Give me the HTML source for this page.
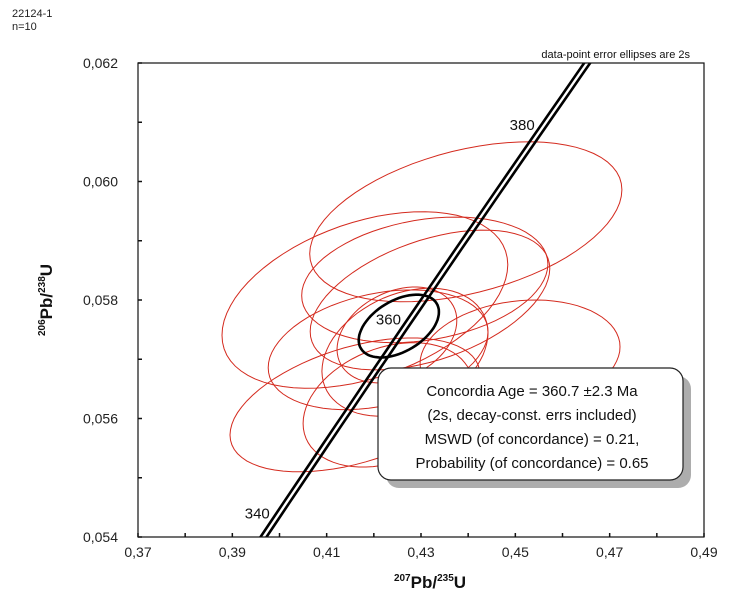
<!DOCTYPE html>
<html><head><meta charset="utf-8"><style>
html,body{margin:0;padding:0;background:#fff;width:745px;height:600px;overflow:hidden;}
svg{display:block;font-family:"Liberation Sans",Arial,sans-serif;}
</style></head><body>
<svg id="chart" width="745" height="600" viewBox="0 0 745 600">
<text x="12" y="17" font-size="11" fill="#222">22124-1</text>
<text x="12" y="30" font-size="11" fill="#222">n=10</text>
<text x="690" y="58" font-size="11" text-anchor="end" fill="#111">data-point error ellipses are 2s</text>
<g id="ellipses"></g>
<g id="concordia"></g>
<rect x="138" y="63" width="566" height="474" fill="none" stroke="#111" stroke-width="1.2"/>
<g id="axes"></g>
<g>
<rect x="386" y="376" width="305" height="112" rx="13" fill="#999" opacity="0.8"/>
<rect x="378" y="368" width="305" height="112" rx="13" fill="#fff" stroke="#222" stroke-width="1.2"/>
<text x="532" y="396" font-size="15" text-anchor="middle" fill="#111">Concordia Age = 360.7 ±2.3 Ma</text>
<text x="532" y="420" font-size="15" text-anchor="middle" fill="#111">(2s, decay-const. errs included)</text>
<text x="532" y="444" font-size="15" text-anchor="middle" fill="#111">MSWD (of concordance) = 0.21,</text>
<text x="532" y="468" font-size="15" text-anchor="middle" fill="#111">Probability (of concordance) = 0.65</text>
</g>
<text x="430" y="588" font-size="17" font-weight="bold" text-anchor="middle" fill="#111"><tspan font-size="10" dy="-7">207</tspan><tspan dy="7">Pb/</tspan><tspan font-size="10" dy="-7">235</tspan><tspan dy="7">U</tspan></text>
<text transform="translate(52,300) rotate(-90)" font-size="17" font-weight="bold" text-anchor="middle" fill="#111"><tspan font-size="10" dy="-7">206</tspan><tspan dy="7">Pb/</tspan><tspan font-size="10" dy="-7">238</tspan><tspan dy="7">U</tspan></text>
</svg>
<script>
const xTicks=[0.37,0.39,0.41,0.43,0.45,0.47,0.49];
const xTickLabels=["0,37","0,39","0,41","0,43","0,45","0,47","0,49"];
const yTicks=[0.054,0.056,0.058,0.060,0.062];
const yTickLabels=["0,054","0,056","0,058","0,060","0,062"];
const ellX=[0.4395,0.4181,0.4308,0.4319,0.4160,0.4510,0.4266,0.4249,0.4209,0.4230];
const ellY=[0.05932,0.05800,0.05834,0.05800,0.05623,0.05707,0.05712,0.05741,0.05716,0.05623];
const ellSX=[0.0331,0.0303,0.0261,0.0254,0.0265,0.0212,0.0176,0.0127,0.0233,0.0180];
const ellSY=[0.00135,0.00149,0.00106,0.00118,0.00113,0.00093,0.00108,0.00081,0.00101,0.00105];
const ellRho=[0.4,0.4,0.25,0.45,0.45,0.15,0.3,0.3,0.3,0.3];
const concX=0.4253, concY=0.05756, concSX=0.0085, concSY=0.00053, concRho=0.45;
const ageLabels=[340,360,380];
const NS="http://www.w3.org/2000/svg";
const X0=0.37,X1=0.49,Y0=0.054,Y1=0.062,PL=138,PR=704,PT=63,PB=537;
const sx=v=>PL+(v-X0)/(X1-X0)*(PR-PL);
const sy=v=>PB-(v-Y0)/(Y1-Y0)*(PB-PT);
function mk(tag,attrs,parent){const e=document.createElementNS(NS,tag);for(const k in attrs)e.setAttribute(k,attrs[k]);parent.appendChild(e);return e;}
function ell(cx,cy,ex,ey,r){let d="";for(let i=0;i<=72;i++){const t=i/72*2*Math.PI;const x=cx+ex*Math.cos(t);const y=cy+ey*(r*Math.cos(t)+Math.sqrt(1-r*r)*Math.sin(t));d+=(i?"L":"M")+sx(x).toFixed(1)+" "+sy(y).toFixed(1);}return d+"Z";}
const eg=document.getElementById("ellipses");
for(let i=0;i<ellX.length;i++){
 const p=mk("path",{d:ell(ellX[i],ellY[i],ellSX[i],ellSY[i],ellRho[i]),fill:"none",stroke:"#d42a1e","stroke-width":"1"},eg);
 
 
}
const cg=document.getElementById("concordia");
const l235=9.8485e-4,l238=1.55125e-4;
const cxf=t=>Math.exp(l235*t)-1, cyf=t=>Math.exp(l238*t)-1;
const clip=mk("clipPath",{id:"pc"},cg);mk("rect",{x:PL,y:PT,width:PR-PL,height:PB-PT},clip);
[-3,3].forEach(off=>{let d="";for(let t=320;t<=410;t+=2){d+=(t>320?"L":"M")+(sx(cxf(t))+off+5).toFixed(1)+" "+(sy(cyf(t))-6).toFixed(1);}
 const p=mk("path",{d:d,fill:"none",stroke:"#000","stroke-width":"2.6","clip-path":"url(#pc)"},cg);
 
 });
ageLabels.forEach(a=>{const x=sx(cxf(a))+5,y=sy(cyf(a))-6;
 const t=mk("text",{x:x-4,y:y-3,"font-size":"15","text-anchor":"end",fill:"#111"},cg);t.textContent=a;
 
 });
const ce=mk("path",{d:ell(concX,concY,concSX,concSY,concRho),fill:"none",stroke:"#000","stroke-width":"2.6"},cg);


const ag=document.getElementById("axes");
for(let v=X0;v<=X1+1e-9;v+=0.01){const x=sx(v);const l=mk("line",{x1:x,x2:x,y1:PB,y2:PB-4,stroke:"#111","stroke-width":"1.5"},ag);
 
 }
for(let v=Y0;v<=Y1+1e-9;v+=0.001){const y=sy(v);const l=mk("line",{x1:PL,x2:PL+4,y1:y,y2:y,stroke:"#111","stroke-width":"1.5"},ag);
 
 }
xTicks.forEach((v,i)=>{const t=mk("text",{x:sx(v),y:PB+20,"font-size":"14","text-anchor":"middle",fill:"#222"},ag);t.textContent=xTickLabels[i];
 
 });
yTicks.forEach((v,i)=>{const t=mk("text",{x:PL-20,y:sy(v)+5,"font-size":"14","text-anchor":"end",fill:"#222"},ag);t.textContent=yTickLabels[i];
 
 });
</script>
</body></html>
